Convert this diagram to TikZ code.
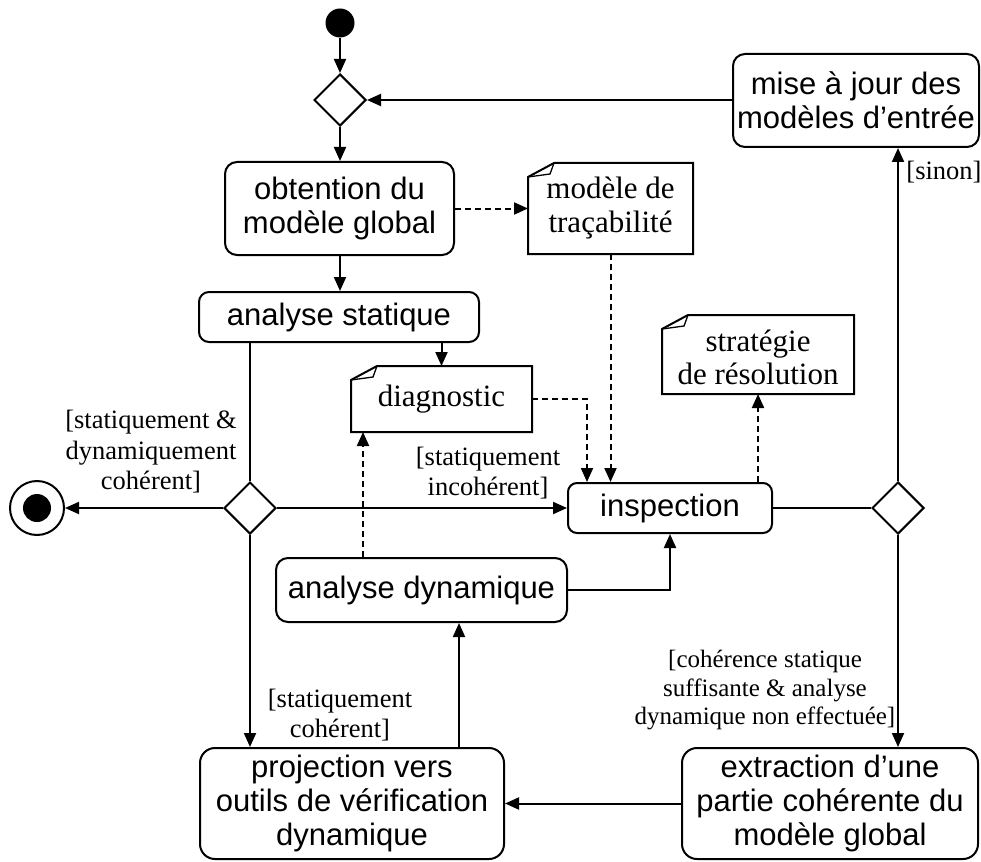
\documentclass[tikz,border=0pt]{standalone}
\usepackage{fontspec}
\setmainfont{Liberation Serif}
\newfontfamily\arialfont{Liberation Sans}
\usetikzlibrary{arrows.meta,shapes.geometric,calc}
\newcommand\umlnote[1]{%
  \draw ([yshift=-14pt]#1.north west) -- ([xshift=26pt]#1.north west) -- (#1.north east) -- (#1.south east) -- (#1.south west) -- cycle;
  \draw[line width=1.3pt] ([yshift=-14pt]#1.north west) -- ([xshift=22pt,yshift=-11pt]#1.north west) -- ([xshift=26pt]#1.north west);}
\begin{document}
\begin{tikzpicture}[x=1pt,y=-1pt,line width=2pt,
  act/.style={draw, rounded corners=12pt, font=\arialfont\fontsize{31}{34}\selectfont, align=center, inner sep=0pt},
  notetext/.style={font=\fontsize{31}{34}\selectfont, align=center, inner sep=0pt},
  dec/.style={draw, diamond, minimum width=52pt, minimum height=52pt, inner sep=0pt},
  lab/.style={font=\fontsize{26.5}{30.5}\selectfont, align=center, inner sep=0pt},
  arr/.style={-{Triangle[length=14pt,width=12pt]}},
  dasharr/.style={arr, dash pattern=on 6pt off 4pt}]
\useasboundingbox (0,0) rectangle (981,861);
% nodes
\node[circle, fill, minimum size=29pt, inner sep=0pt] (start) at (340,23) {};
\node[dec] (d1) at (340,100) {};
\node[act, minimum width=229pt, minimum height=93pt] (obt) at (339.5,208.5) {obtention du\\modèle global};
\node[notetext, minimum width=163pt, minimum height=89pt] (trac) at (610.5,208.5) {modèle de\\traçabilité};
\umlnote{trac}
\node[act, rounded corners=10pt, minimum width=280pt, minimum height=50pt] (as) at (339,317) {analyse statique};
\node[notetext, minimum width=179pt, minimum height=64pt] (diag) at (441.5,399) {diagnostic};
\umlnote{diag}
\node[notetext, minimum width=190pt, minimum height=77pt, text depth=0pt] (strat) at (758,354.5) {\raisebox{-6pt}{\shortstack{stratégie\\[2pt]de résolution}}};
\umlnote{strat}
\node[act, rounded corners=9pt, minimum width=204pt, minimum height=50pt] (insp) at (670,508) {inspection};
\node[dec] (d2) at (250,508) {};
\node[dec] (d3) at (898,508) {};
\node[circle, draw, minimum size=54pt, inner sep=0pt] (fin) at (37,508) {};
\node[circle, fill, minimum size=28pt, inner sep=0pt] (fininner) at (fin.center) {};
\node[act, minimum width=246pt, minimum height=93pt] (mise) at (856,100.5) {mise à jour des\\modèles d’entrée};
\node[act, minimum width=291pt, minimum height=64pt] (ad) at (421.5,590) {analyse dynamique};
\node[act, rounded corners=15pt, minimum width=304pt, minimum height=111pt] (proj) at (352,803.5) {projection vers\\outils de vérification\\dynamique};
\node[act, rounded corners=15pt, minimum width=296pt, minimum height=111pt] (extr) at (830,803.5) {extraction d’une\\partie cohérente du\\modèle global};
% labels
\node[lab] (l1) at (151,452) {[statiquement \&\\dynamiquement\\cohérent]};
\node[lab] (l2) at (488,473) {[statiquement\\incohérent]};
\node[lab] (l3) at (340,715) {[statiquement\\cohérent]};
\node[lab] (l4) at (944,172) {[sinon]};
\node[lab, font=\fontsize{25}{28.5}\selectfont] (l5) at (765,690) {[cohérence statique\\suffisante \& analyse\\dynamique non effectuée]};
% connectors
\draw[arr] (start) -- (d1.north);
\draw[arr] (d1.south) -- (d1.south |- obt.north);
\draw[arr] (mise.west |- d1.east) -- (d1.east);
\draw[dasharr] (obt.east) -- (trac.west);
\draw[arr] (d1.south |- obt.south) -- (d1.south |- as.north);
\draw[arr] (diag.north |- as.south) -- (diag.north);
\draw (d2.north |- as.south) -- (d2.north);
\draw[arr] (d2.west) -- (fin.east);
\draw[arr] (d2.east) -- (insp.west);
\draw[arr] (d2.south) -- (d2.south |- proj.north);
\draw[arr] ([xshift=107pt]proj.north) -- ([xshift=107pt]proj.north |- ad.south);
\draw[arr] (ad.east) -| (insp.south);
\draw[dasharr] ([xshift=-58.5pt]ad.north) -- ([xshift=-58.5pt]ad.north |- diag.south);
\draw[dasharr] (diag.east) -| ([xshift=-83pt]insp.north);
\draw[dasharr] (trac.south) -- (trac.south |- insp.north);
\draw[dasharr] (strat.south |- insp.north) -- (strat.south);
\draw (insp.east) -- (d3.west);
\draw[arr] (d3.north) -- (d3.north |- mise.south);
\draw[arr] (d3.south) -- (d3.south |- extr.north);
\draw[arr] (extr.west) -- (proj.east);
\end{tikzpicture}
\end{document}
